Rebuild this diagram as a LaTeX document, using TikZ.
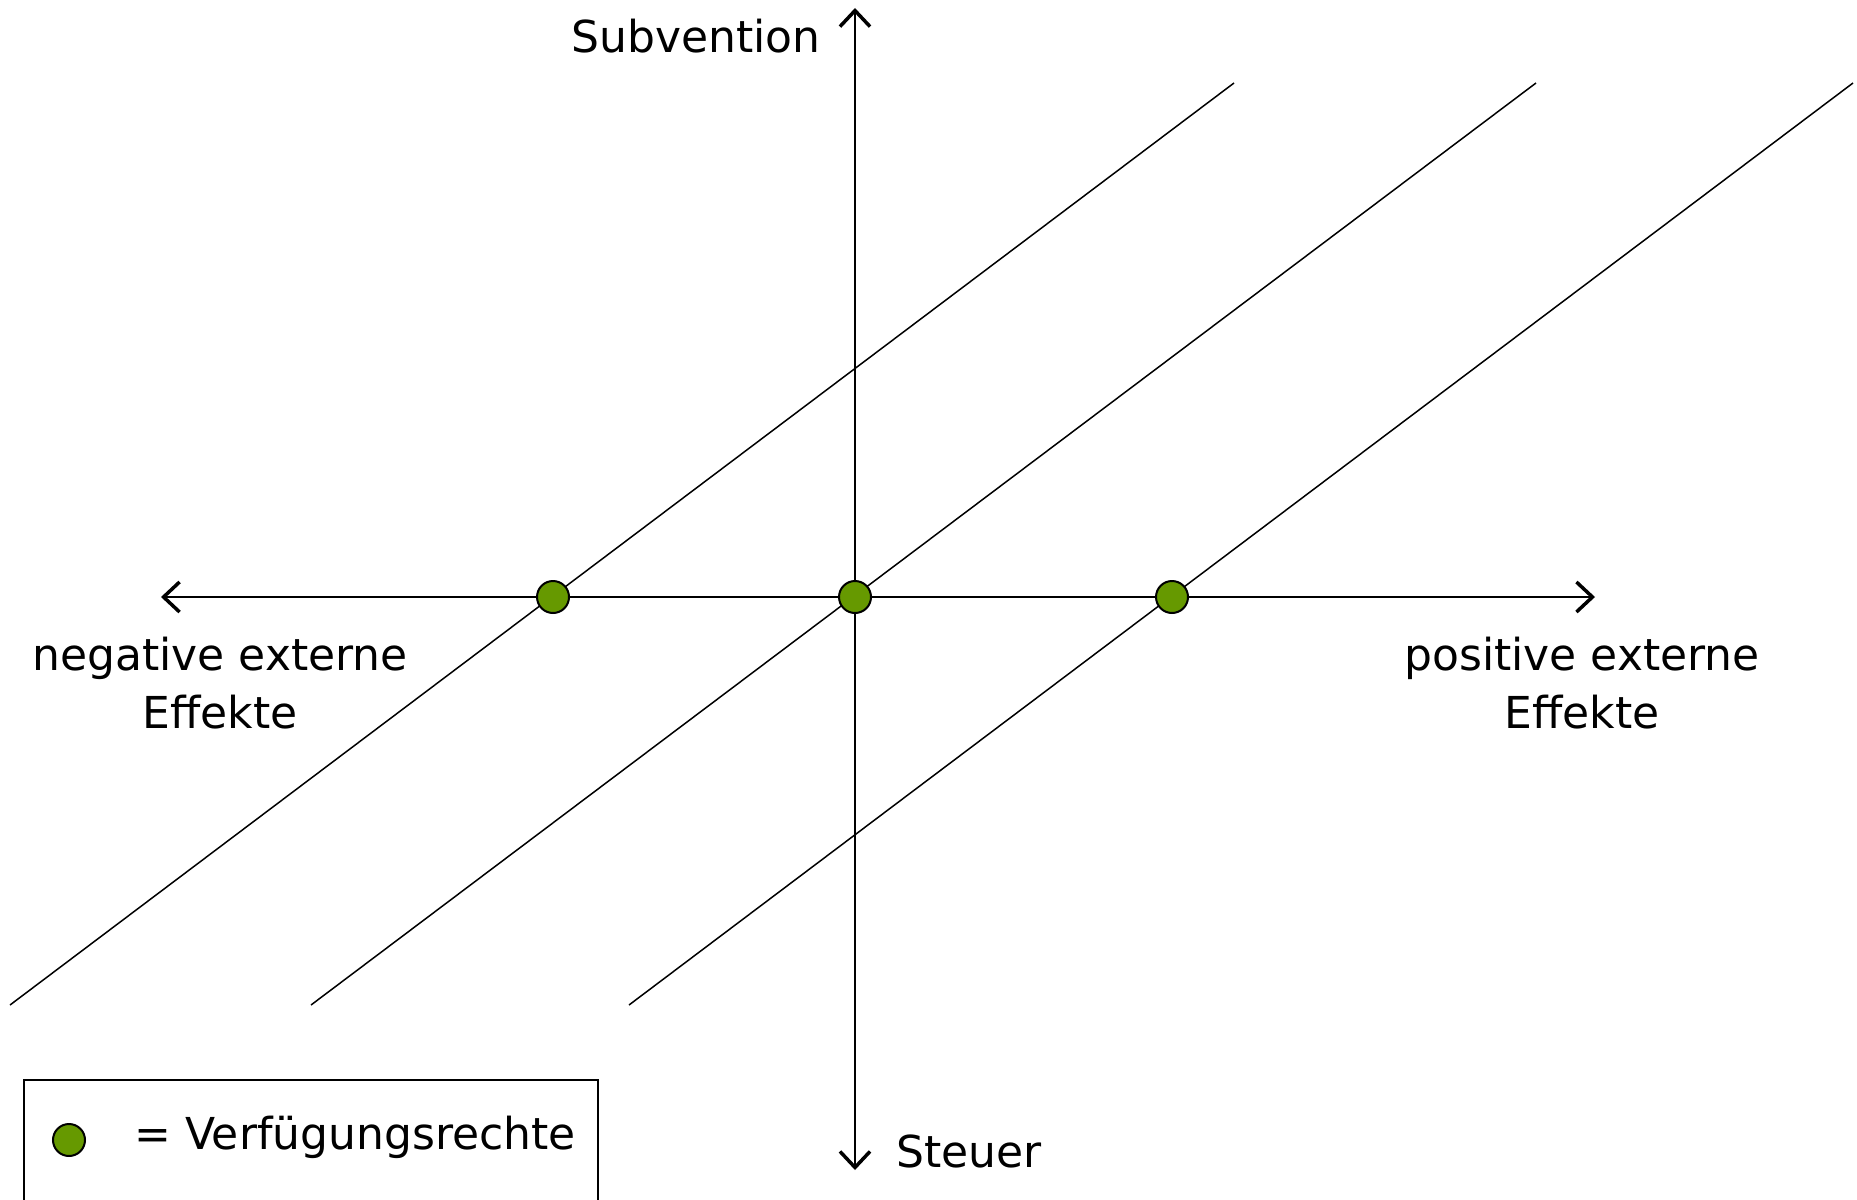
\documentclass[tikz,border=0pt]{standalone}
\usepackage{fontspec}
\setmainfont{DejaVu Sans}
\usetikzlibrary{arrows.meta,positioning}
\definecolor{rechtgreen}{RGB}{102,153,0}

\begin{document}
\begin{tikzpicture}[
  x=1pt, y=-1pt,
  font=\fontsize{44}{58}\selectfont,
  axis/.style={line width=1.6pt, -{Straight Barb[length=16pt, width=30pt, line width=3.5pt]}},
  kurve/.style={line width=1.5pt},
  recht/.style={circle, draw, line width=2pt, fill=rechtgreen, minimum size=32pt, inner sep=0pt},
  lbl/.style={align=center, inner sep=0pt}
]
\useasboundingbox (0,0) rectangle (1857,1199);

% ---- axes ----
\coordinate (o)     at (855,597);
\coordinate (north) at (855,8);
\coordinate (south) at (855,1170);
\coordinate (west)  at (161,597);
\coordinate (east)  at (1595,597);
\draw[axis] (o) -- (north);
\draw[axis] (o) -- (south);
\draw[axis] (o) -- (west);
\draw[axis] (o) -- (east);

% ---- parallel lines ----
\coordinate (l1a) at (10,1005);   \coordinate (l1b) at (1234,83);
\coordinate (l2a) at (311,1005);  \coordinate (l2b) at (1536,83);
\coordinate (l3a) at (629,1005);  \coordinate (l3b) at (1853,83);
\draw[kurve] (l1a) -- (l1b);
\draw[kurve] (l2a) -- (l2b);
\draw[kurve] (l3a) -- (l3b);

% ---- property rights ----
\node[recht] (rneg) at (553,597) {};
\node[recht] (rnul) at (855,597) {};
\node[recht] (rpos) at (1172,597) {};

% ---- labels ----
\node[lbl] (subv)  at (696,36)   {Subvention};
\node[lbl] (steu)  at (969,1151) {Steuer};
\node[lbl] (negex) at (220,683)  {negative externe\\Effekte};
\node[lbl] (posex) at (1582,683) {positive externe\\Effekte};

% ---- legend ----
\node[draw, line width=1.6pt, minimum width=574pt, minimum height=140pt,
      inner sep=0pt] (legend) at (311,1150) {};
\node[recht] (legdot) at (69,1140) {};
\node[lbl] (legtxt) at (355,1137) {= Verfügungsrechte};
\end{tikzpicture}
\end{document}
